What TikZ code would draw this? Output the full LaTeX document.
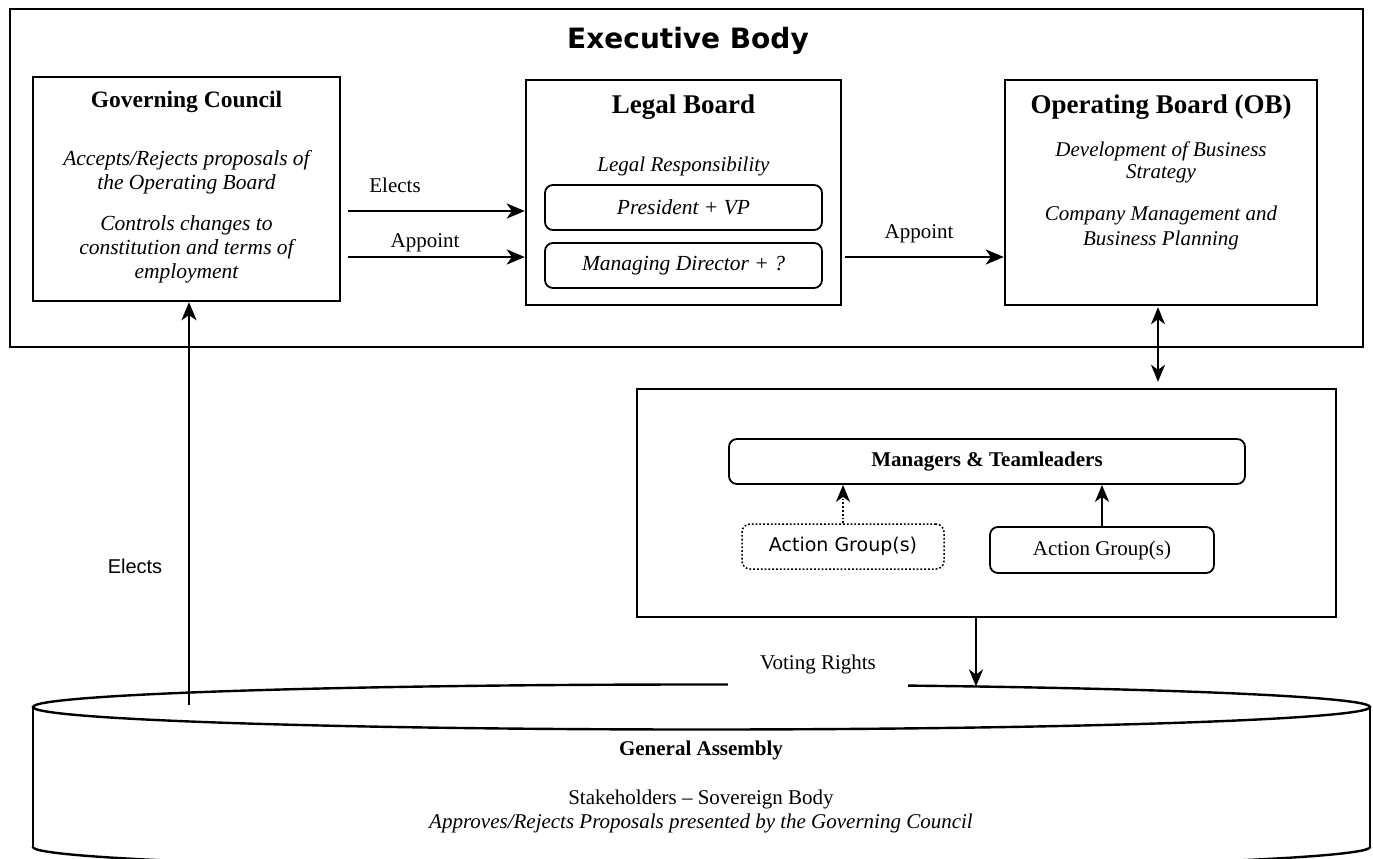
\documentclass[tikz,border=0pt]{standalone}
\usepackage{fontspec}
\setmainfont{Liberation Serif}
\newfontfamily\titlefont{DejaVu Sans}
\newfontfamily\arialfont{Liberation Sans}
\usetikzlibrary{arrows.meta}
\tikzset{
  txt/.style={font=\fontsize{21}{24}\selectfont, align=center, inner sep=0pt},
  bigbox/.style={draw, line width=2.4pt, inner sep=0pt},
  rbox/.style={draw, line width=1.8pt, rounded corners=8pt, inner sep=0pt, font=\fontsize{21}{24}\selectfont},
  arr/.style={line width=2.4pt, -{Stealth[length=18pt,width=15pt,inset=5pt]}},
  arrs/.style={line width=1.8pt, -{Stealth[length=17pt,width=14pt,inset=5pt]}},
}
\begin{document}
\begin{tikzpicture}[x=1pt,y=-1pt]
\useasboundingbox (0,0) rectangle (1373,859);
% outer executive body
\node[bigbox, minimum width=1353pt, minimum height=338pt] (EB) at (686.5,178) {};
\node[font=\titlefont\fontsize{28}{30}\selectfont\bfseries, inner sep=0pt] (EBt) at (688,41) {Executive Body};
% governing council
\node[bigbox, minimum width=307pt, minimum height=224pt] (GC) at (186.5,189) {};
\node[txt, font=\fontsize{23.5}{26}\selectfont\bfseries] (GCt) at (186.5,102) {Governing Council};
\node[txt, font=\fontsize{21.5}{24}\selectfont\itshape] (GC1) at (186.5,172) {Accepts/Rejects proposals of\\the Operating Board};
\node[txt, font=\fontsize{21.5}{24}\selectfont\itshape] (GC2) at (186.5,249) {Controls changes to\\constitution and terms of\\employment};
% legal board
\node[bigbox, minimum width=315pt, minimum height=225pt] (LB) at (683.5,192.5) {};
\node[txt, font=\fontsize{27}{30}\selectfont\bfseries] (LBt) at (683.5,107) {Legal Board};
\node[txt, font=\fontsize{21}{24}\selectfont\itshape] (LBr) at (683.5,166) {Legal Responsibility};
\node[rbox, minimum width=277pt, minimum height=45pt, font=\fontsize{21.5}{24}\selectfont\itshape] (PVP) at (683.5,207.5) {President + VP};
\node[rbox, minimum width=277pt, minimum height=45pt, font=\fontsize{21.5}{24}\selectfont\itshape] (MD) at (683.5,265.5) {Managing Director + ?};
% operating board
\node[bigbox, minimum width=312pt, minimum height=225pt] (OB) at (1161,192.5) {};
\node[txt, font=\fontsize{27}{30}\selectfont\bfseries] (OBt) at (1161,107) {Operating Board (OB)};
\node[txt, font=\fontsize{21}{22}\selectfont\itshape] (OB1) at (1161,162.5) {Development of Business\\Strategy};
\node[txt, font=\fontsize{21}{25}\selectfont\itshape] (OB2) at (1161,227.5) {Company Management and\\Business Planning};
% arrows in executive body
\draw[arr, shorten <=7pt] ([yshift=-22pt]GC.east) -- ([yshift=-22pt]GC.east -| LB.west);
\draw[arr, shorten <=7pt] ([yshift=-68pt]GC.east) -- ([yshift=-68pt]GC.east -| LB.west);
\node[txt] (lEl) at (395,185) {Elects};
\node[txt] (lAp1) at (425,243) {Appoint};
\draw[arr, shorten <=3pt] ([yshift=-64.5pt]LB.east) -- ([yshift=-64.5pt]LB.east -| OB.west);
\node[txt] (lAp2) at (919,234) {Appoint};
% middle box
\node[bigbox, minimum width=699pt, minimum height=228pt] (MID) at (986.5,503) {};
\node[rbox, minimum width=516pt, minimum height=45pt, font=\fontsize{21}{24}\selectfont\bfseries] (MT) at (987,461.5) {Managers \& Teamleaders};
\node[rbox, dotted, line width=1.5pt, minimum width=202pt, minimum height=45pt, font=\titlefont\fontsize{19}{22}\selectfont] (AG1) at (843,546.5) {Action Group(s)};
\node[rbox, minimum width=224pt, minimum height=46pt] (AG2) at (1102,550) {Action Group(s)};
\draw[arrs, dotted] (AG1.north) -- (AG1.north |- MT.south);
\draw[arrs] (AG2.north) -- (AG2.north |- MT.south);
\draw[arrs, {Stealth[length=17pt,width=14pt,inset=5pt]}-{Stealth[length=17pt,width=14pt,inset=5pt]}, shorten >=6pt, shorten <=1pt] ([xshift=-3pt]OB.south) -- ([xshift=-3pt]OB.south |- MID.north);
% general assembly cylinder
\draw[line width=2.4pt] (701.5,707) ellipse [x radius=668.5, y radius=22.5];
\draw[line width=2.4pt] (33,707) -- (33,847);
\draw[line width=2.4pt] (1370,707) -- (1370,847);
\begin{scope}
\clip (0,847) rectangle (1373,900);
\draw[line width=2.4pt] (701.5,847) ellipse [x radius=668.5, y radius=22.5];
\end{scope}
\node[txt, font=\fontsize{21}{24}\selectfont\bfseries] (GAt) at (701,750) {General Assembly};
\node[txt] (GA1) at (701,799) {Stakeholders -- Sovereign Body};
\node[txt, font=\fontsize{21}{24}\selectfont\itshape] (GA2) at (701,823) {Approves/Rejects Proposals presented by the Governing Council};
% voting rights
\node[txt, fill=white, minimum width=180pt, text height=15pt, text depth=25pt, inner ysep=0pt] (lVR) at (818,674) {Voting Rights};
\coordinate (vt) at (976,686.5);
\draw[arrs] ([xshift=-10.5pt]MID.south) -- (vt);
% elects from general assembly
\coordinate (ge) at (189,705);
\draw[arr] (ge) -- (ge |- GC.south);
\node[txt, font=\arialfont\fontsize{20}{24}\selectfont] (lEl2) at (135,566) {Elects};
\end{tikzpicture}
\end{document}
